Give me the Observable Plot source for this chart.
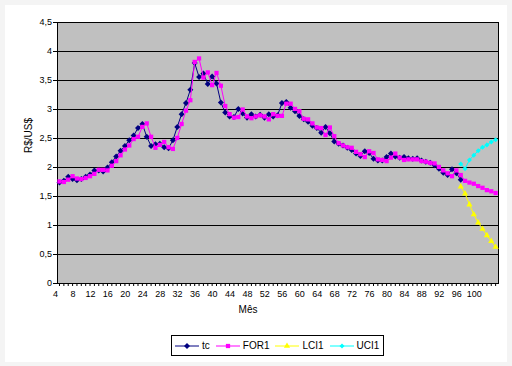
<!DOCTYPE html>
<html><head><meta charset="utf-8">
<script src="https://cdn.jsdelivr.net/npm/d3@7"></script>
<script src="https://cdn.jsdelivr.net/npm/@observablehq/plot@0.6"></script>
<style>
html,body{margin:0;padding:0;background:#f4f4f4;width:512px;height:366px;overflow:hidden;}
#frame{position:absolute;left:5px;top:5px;width:502px;height:357px;background:#fff;}
#chart{position:absolute;left:0;top:0;}
#legend{position:absolute;left:171px;top:335px;width:208px;height:19px;border:1px solid #000;background:#fff;
  font:10px "Liberation Sans",Arial,sans-serif;display:flex;align-items:center;padding-left:3px;box-sizing:content-box;}
#legend .item{display:flex;align-items:center;margin-right:6px;}
#legend svg{display:block;margin-right:3px;}
</style></head><body>
<div id="frame"></div>
<div id="chart"></div>
<div id="legend"></div>
<script>
// ---- data ----
const tcStart = 4;
const tc = [
  1.74, 1.77, 1.84, 1.80, 1.78, 1.80, 1.84, 1.88, 1.95, 1.95,
  1.93, 2.00, 2.09, 2.19, 2.29, 2.37, 2.47, 2.55, 2.68, 2.75,
  2.53, 2.37, 2.40, 2.41, 2.35, 2.33, 2.47, 2.70, 2.92, 3.11,
  3.34, 3.80, 3.56, 3.62, 3.44, 3.57, 3.45, 3.12, 2.95, 2.88,
  2.87, 3.01, 2.93, 2.86, 2.92, 2.88, 2.91, 2.86, 2.92, 2.88,
  2.90, 3.11, 3.13, 3.03, 2.97, 2.89, 2.83, 2.79, 2.72, 2.68,
  2.60, 2.70, 2.59, 2.45, 2.41, 2.38, 2.34, 2.30, 2.24, 2.20,
  2.28, 2.25, 2.15, 2.12, 2.12, 2.18, 2.24, 2.19, 2.17, 2.18,
  2.16, 2.15, 2.16, 2.12, 2.10, 2.08, 2.04, 1.98, 1.91, 1.87,
  1.97, 1.90, 1.79
];
const for1Start = 4;
const for1 = [
  1.76, 1.75, 1.79, 1.85, 1.81, 1.80, 1.82, 1.85, 1.89, 1.96,
  1.96, 1.95, 2.03, 2.11, 2.21, 2.31, 2.38, 2.49, 2.53, 2.70,
  2.76, 2.53, 2.34, 2.39, 2.44, 2.35, 2.32, 2.51, 2.75, 2.98,
  3.16, 3.82, 3.88, 3.55, 3.64, 3.42, 3.63, 3.41, 3.06, 2.92,
  2.86, 2.87, 3.00, 2.88, 2.85, 2.88, 2.90, 2.88, 2.83, 2.92,
  2.89, 2.89, 3.10, 3.10, 3.01, 2.97, 2.84, 2.83, 2.76, 2.69,
  2.68, 2.56, 2.69, 2.54, 2.42, 2.38, 2.35, 2.34, 2.27, 2.23,
  2.18, 2.28, 2.25, 2.14, 2.13, 2.11, 2.17, 2.24, 2.17, 2.13,
  2.14, 2.14, 2.14, 2.11, 2.10, 2.08, 2.07, 2.01, 1.95, 1.90,
  1.85, 1.95, 1.87, 1.77, 1.74, 1.72, 1.68, 1.65, 1.61, 1.59,
  1.56
];
const ciStart = 96;
const lci1 = [1.67, 1.55, 1.36, 1.19, 1.05, 0.94, 0.83, 0.73, 0.63];
const uci1 = [2.06, 1.98, 2.13, 2.21, 2.29, 2.35, 2.39, 2.44, 2.48];

const seriesNames = ["tc", "FOR1", "LCI1", "UCI1"];
const xTickLabels = d3.range(4, 101, 4);
const xTickMarks = d3.range(4, 105, 1);
const yTicks = [0, 0.5, 1, 1.5, 2, 2.5, 3, 3.5, 4, 4.5];
const xTitle = "Mês";
const yTitle = "R$/US$";

// ---- styles ----
const colors = {tc: "#000080", FOR1: "#FF00FF", LCI1: "#FFFF00", UCI1: "#00FFFF"};
const symbols = {tc: "square", FOR1: "square", LCI1: "triangle", UCI1: "square"};
const rotates = {tc: 45, FOR1: 0, LCI1: 0, UCI1: 45};
const radii = {tc: 2.4, FOR1: 2.4, LCI1: 2.3, UCI1: 2.0};

const rows = (arr, start, s) => arr.map((v, i) => ({c: start + i, v, s}));
const seriesData = {
  tc: rows(tc, tcStart, "tc"),
  FOR1: rows(for1, for1Start, "FOR1"),
  LCI1: rows(lci1, ciStart, "LCI1"),
  UCI1: rows(uci1, ciStart, "UCI1")
};

const seriesMarks = seriesNames.flatMap(s => [
  Plot.line(seriesData[s], {x: "c", y: "v", stroke: colors[s], strokeWidth: 1}),
  Plot.dot(seriesData[s], {x: "c", y: "v", symbol: symbols[s], rotate: rotates[s], r: radii[s], fill: colors[s], stroke: "none"})
]);

const chart = Plot.plot({
  width: 512,
  height: 320,
  marginLeft: 57,
  marginRight: 14,
  marginTop: 22,
  marginBottom: 37,
  style: {fontFamily: "'Liberation Sans', Arial, sans-serif", fontSize: "9px", color: "#000", background: "transparent", overflow: "visible"},
  x: {type: "linear", domain: [3.54, 104.66]},
  y: {domain: [0, 4.5]},
  marks: [
    Plot.frame({fill: "#C0C0C0"}),
    Plot.gridY(yTicks, {stroke: "#000", strokeOpacity: 1, strokeWidth: 1}),
    Plot.frame({stroke: "#000", strokeWidth: 1}),
    Plot.axisY(yTicks, {tickSize: 4, tickPadding: 1.5, tickFormat: d => String(d).replace(".", ","), label: null}),
    Plot.axisX(xTickMarks, {tickSize: 3, tickFormat: () => "", label: null}),
    Plot.axisX(xTickLabels, {tickSize: 0, tickPadding: 7, dx: -4, label: null}),
    ...seriesMarks,
    Plot.text([xTitle], {frameAnchor: "bottom", dx: -30, dy: 29, fontSize: 10}),
    Plot.text([yTitle], {frameAnchor: "left", dx: -29, rotate: -90, fontSize: 10})
  ]
});
document.getElementById("chart").appendChild(chart);

// ---- legend ----
const legend = d3.select("#legend");
for (const s of seriesNames) {
  const item = legend.append("div").attr("class", "item");
  const svg = item.append("svg").attr("width", 24).attr("height", 10);
  svg.append("line").attr("x1", 0).attr("x2", 24).attr("y1", 5).attr("y2", 5)
    .attr("stroke", colors[s]).attr("stroke-width", 1);
  const size = Math.PI * radii[s] * radii[s];
  const sym = {square: d3.symbolSquare, triangle: d3.symbolTriangle}[symbols[s]];
  svg.append("path").attr("d", d3.symbol(sym, size)())
    .attr("transform", `translate(12,5) rotate(${rotates[s]})`).attr("fill", colors[s]);
  item.append("span").text(s);
}
</script>
</body></html>
